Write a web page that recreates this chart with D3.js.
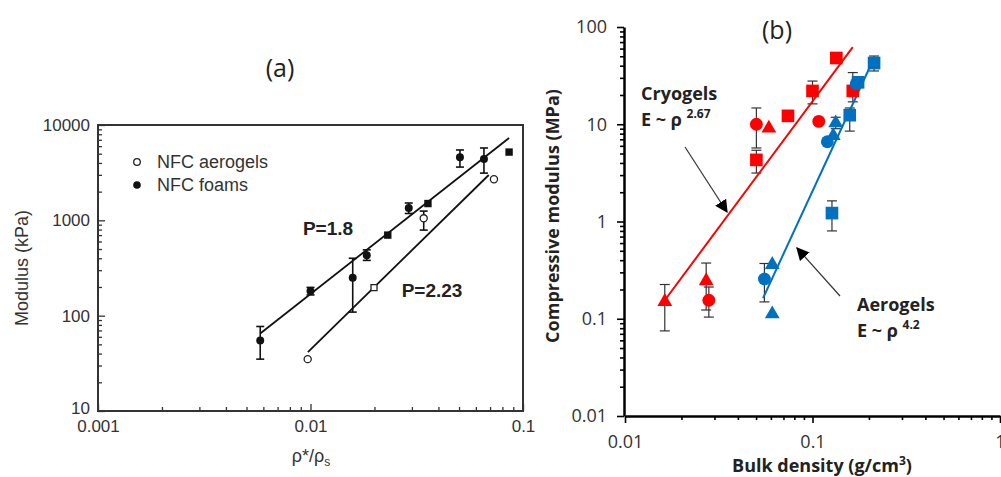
<!DOCTYPE html>
<html>
<head>
<meta charset="utf-8">
<script src="https://cdn.jsdelivr.net/npm/d3@7"></script>
<style>
  body { margin: 0; background: #fff; }
</style>
</head>
<body>
<div id="canvas"></div>
<script>
// ---- panel (a): [x, y, errLow, errHigh]
let foamCircles = [[0.0058, 55, 35, 77], [0.0100, 181, 165, 198], [0.0158, 250, 109, 400], [0.0184, 430, 380, 490], [0.029, 1350, 1180, 1520], [0.0505, 4600, 3620, 5470], [0.0655, 4400, 3130, 5740]];
let foamSquares = [[0.0231, 700], [0.0357, 1500], [0.086, 5200]];
let aeroCircles = [[0.0097, 35], [0.0341, 1050, 790, 1250], [0.073, 2700]];
let aeroSquares = [[0.0199, 197]];
let fitFoam = [[0.0058, 65], [0.086, 7300]];
let fitAero = [[0.00972, 41.5], [0.069, 2990]];
let xTicksA = ["0.001", "0.01", "0.1"];
let yTicksA = ["10", "100", "1000", "10000"];

// ---- panel (b): [x, y, errLow, errHigh]
let cryoSquares = [[0.0502, 4.3, 3.15, 5.4], [0.074, 12.2], [0.1, 22, 16.2, 27.8], [0.134, 48], [0.164, 22, 17, 34]];
let cryoCircles = [[0.028, 0.155, 0.104, 0.212], [0.0502, 10, 5.7, 14.7], [0.108, 10.7]];
let cryoTriangles = [[0.0163, 0.15, 0.075, 0.225], [0.0271, 0.245, 0.123, 0.374], [0.0585, 9.1]];
let aeroBSquares = [[0.127, 1.22, 0.8, 1.63], [0.158, 12.4, 8.5, 14.7], [0.175, 27], [0.213, 42.6, 35.3, 50.3]];
let aeroBCircles = [[0.0554, 0.256, 0.149, 0.37], [0.12, 6.6], [0.171, 26]];
let aeroBTriangles = [[0.061, 0.36], [0.061, 0.112], [0.129, 7.6], [0.133, 10.3, 9, 11.8]];
let fitCryo = [[0.0163, 0.155], [0.164, 62]];
let fitAeroB = [[0.0545, 0.163], [0.215, 50]];
let xTicksB = ["0.01", "0.1", "1"];
let yTicksB = ["0.01", "0.1", "1", "10", "100"];

let svg = d3
  .select("#canvas")
  .append("svg")
  .attr("width", 1001)
  .attr("height", 477)
  .style("display", "block")
  .style("background", "#fff");

let logTicks = (lo, hi) => {
  let t = [];
  for (let e = lo; e < hi; e++)
    for (let m = 1; m < 10; m++) t.push(+(m * Math.pow(10, e)).toPrecision(3));
  t.push(Math.pow(10, hi));
  return t;
};
let isMajor = (d) => Math.abs(Math.log10(d) - Math.round(Math.log10(d))) < 1e-6;

let errBars = (g, data, x, y, cap, color, w) => {
  let d = data.filter((p) => p.length > 2);
  g.selectAll(null).data(d).join("line")
    .attr("x1", (p) => x(p[0])).attr("x2", (p) => x(p[0]))
    .attr("y1", (p) => y(p[2])).attr("y2", (p) => y(p[3]))
    .attr("stroke", color).attr("stroke-width", w);
  [2, 3].forEach((k) => {
    g.selectAll(null).data(d).join("line")
      .attr("x1", (p) => x(p[0]) - cap).attr("x2", (p) => x(p[0]) + cap)
      .attr("y1", (p) => y(p[k])).attr("y2", (p) => y(p[k]))
      .attr("stroke", color).attr("stroke-width", w);
  });
};

let marks = (g, data, x, y, type, size, fill, stroke) => {
  g.selectAll(null).data(data).join("path")
    .attr("d", d3.symbol().type(type).size(size))
    .attr("transform", (p) => `translate(${x(p[0])},${y(p[1])})`)
    .attr("fill", fill)
    .attr("stroke", stroke || "none")
    .attr("stroke-width", 1.3);
};

let fitLine = (g, data, x, y, color, w) => {
  g.append("path")
    .datum(data)
    .attr("d", d3.line().x((p) => x(p[0])).y((p) => y(p[1])))
    .attr("fill", "none").attr("stroke", color).attr("stroke-width", w);
};

// ================= panel (a)
let xA = d3.scaleLog().domain([0.001, 0.1]).range([98, 523]);
let yA = d3.scaleLog().domain([10, 10000]).range([411, 125]);
let gA = svg.append("g").attr("font-family", "'Liberation Sans', Arial, sans-serif");

let axAy = gA.append("g").attr("transform", "translate(98,0)")
  .call(d3.axisLeft(yA).tickValues(logTicks(1, 4)).tickSize(-4).tickSizeOuter(0).tickPadding(8)
    .tickFormat((d) => (isMajor(d) ? yTicksA[Math.round(Math.log10(d)) - 1] : "")));
axAy.selectAll(".tick line").attr("x2", (d) => (isMajor(d) ? 7 : 4)).attr("stroke", "#333").attr("stroke-width", 1.3);
// the "10" sits just above the "0.001" of the x axis
axAy.selectAll(".tick text").filter((d) => d === 10).attr("y", -3);

let axAx = gA.append("g").attr("transform", "translate(0,411)")
  .call(d3.axisBottom(xA).tickValues(logTicks(-3, -1)).tickSize(-4).tickSizeOuter(0).tickPadding(9)
    .tickFormat((d) => (isMajor(d) ? xTicksA[Math.round(Math.log10(d)) + 3] : "")));
axAx.selectAll(".tick line").attr("y2", (d) => (isMajor(d) ? -7 : -4)).attr("stroke", "#333").attr("stroke-width", 1.3);

[axAy, axAx].forEach((a) => {
  a.select(".domain").remove();
  a.selectAll("text").attr("font-size", 17).attr("fill", "#333").attr("font-family", "'Liberation Sans', Arial, sans-serif");
});

gA.append("rect").attr("x", 98).attr("y", 125).attr("width", 425).attr("height", 286)
  .attr("fill", "none").attr("stroke", "#333").attr("stroke-width", 2);

fitLine(gA, fitFoam, xA, yA, "#111", 1.8);
fitLine(gA, fitAero, xA, yA, "#111", 1.8);
errBars(gA, foamCircles, xA, yA, 4, "#111", 1.6);
errBars(gA, aeroCircles, xA, yA, 4, "#111", 1.6);
marks(gA, foamCircles, xA, yA, d3.symbolCircle, 50, "#111");
marks(gA, foamSquares, xA, yA, d3.symbolSquare, 55, "#111");
marks(gA, aeroCircles, xA, yA, d3.symbolCircle, 40, "#fff", "#222");
marks(gA, aeroSquares, xA, yA, d3.symbolSquare, 36, "#fff", "#222");

// legend
gA.append("circle").attr("cx", 137).attr("cy", 162).attr("r", 3.3).attr("fill", "#fff").attr("stroke", "#222").attr("stroke-width", 1.3);
gA.append("circle").attr("cx", 137).attr("cy", 185).attr("r", 3.8).attr("fill", "#111");
gA.append("text").attr("x", 157).attr("y", 168).attr("font-size", 18).attr("fill", "#333").text("NFC aerogels");
gA.append("text").attr("x", 157).attr("y", 191).attr("font-size", 18).attr("fill", "#333").text("NFC foams");

gA.append("text").attr("x", 328).attr("y", 235).attr("text-anchor", "middle").attr("font-size", 19).attr("font-weight", "bold").attr("fill", "#222").text("P=1.8");
gA.append("text").attr("x", 432).attr("y", 297).attr("text-anchor", "middle").attr("font-size", 19).attr("font-weight", "bold").attr("fill", "#222").text("P=2.23");

gA.append("text").attr("transform", "translate(28,268) rotate(-90)").attr("text-anchor", "middle")
  .attr("font-size", 18).attr("fill", "#333").text("Modulus (kPa)");
let xl = gA.append("text").attr("x", 311).attr("y", 462).attr("text-anchor", "middle").attr("font-size", 18).attr("fill", "#333");
xl.append("tspan").text("ρ*/ρ");
xl.append("tspan").attr("font-size", 12).attr("dy", 4).text("s");

svg.append("text").attr("x", 280).attr("y", 77).attr("text-anchor", "middle")
  .attr("font-family", "'Open Sans', sans-serif").attr("font-size", 25).attr("fill", "#222").text("(a)");

// ================= panel (b)
let xB = d3.scaleLog().domain([0.01, 1]).range([625, 1000]);
let yB = d3.scaleLog().domain([0.01, 100]).range([416, 27]);
let gB = svg.append("g").attr("font-family", "'Open Sans', sans-serif");

let axBy = gB.append("g").attr("transform", "translate(624,0)")
  .call(d3.axisLeft(yB).tickValues(logTicks(-2, 2)).tickSize(4).tickSizeOuter(0).tickPadding(13)
    .tickFormat((d) => (isMajor(d) ? yTicksB[Math.round(Math.log10(d)) + 2] : "")));
axBy.selectAll(".tick line").attr("x2", (d) => (isMajor(d) ? -7 : -4));

let axBx = gB.append("g").attr("transform", "translate(0,416)")
  .call(d3.axisBottom(xB).tickValues(logTicks(-2, 0)).tickSize(4).tickSizeOuter(0).tickPadding(15)
    .tickFormat((d) => (isMajor(d) ? xTicksB[Math.round(Math.log10(d)) + 2] : "")));
axBx.selectAll(".tick line").attr("y2", (d) => (isMajor(d) ? 7 : 4));

[axBy, axBx].forEach((a) => {
  a.select(".domain").attr("stroke", "#000").attr("stroke-width", 2.5);
  a.selectAll(".tick line").attr("stroke", "#000").attr("stroke-width", 1.6);
  a.selectAll("text").attr("font-size", 18).attr("fill", "#333").attr("font-family", "'Open Sans', sans-serif");
});

let red = "#ff0000", blue = "#0070c0";
errBars(gB, cryoSquares.concat(cryoCircles, cryoTriangles), xB, yB, 5, "#333", 1.2);
errBars(gB, aeroBSquares.concat(aeroBCircles, aeroBTriangles), xB, yB, 5, "#333", 1.2);
fitLine(gB, fitCryo, xB, yB, red, 2);
fitLine(gB, fitAeroB, xB, yB, blue, 2);
marks(gB, cryoSquares, xB, yB, d3.symbolSquare, 160, red);
marks(gB, cryoCircles, xB, yB, d3.symbolCircle, 130, red);
marks(gB, cryoTriangles, xB, yB, d3.symbolTriangle, 95, red);
marks(gB, aeroBSquares, xB, yB, d3.symbolSquare, 160, blue);
marks(gB, aeroBCircles, xB, yB, d3.symbolCircle, 130, blue);
marks(gB, aeroBTriangles, xB, yB, d3.symbolTriangle, 95, blue);

// arrows
let defs = svg.append("defs");
defs.append("marker").attr("id", "ah").attr("viewBox", "0 0 10 10").attr("refX", 9).attr("refY", 5)
  .attr("markerWidth", 13).attr("markerHeight", 13).attr("markerUnits", "userSpaceOnUse").attr("orient", "auto")
  .append("path").attr("d", "M0,0L10,5L0,10z").attr("fill", "#000");
gB.append("line").attr("x1", 685).attr("y1", 147).attr("x2", 727).attr("y2", 212)
  .attr("stroke", "#333").attr("stroke-width", 1.2).attr("marker-end", "url(#ah)");
gB.append("line").attr("x1", 840).attr("y1", 296).attr("x2", 797).attr("y2", 248)
  .attr("stroke", "#333").attr("stroke-width", 1.2).attr("marker-end", "url(#ah)");

let note = (x, y, name, exp) => {
  gB.append("text").attr("x", x).attr("y", y).attr("font-size", 18).attr("font-weight", "bold").attr("fill", "#222").text(name);
  let t = gB.append("text").attr("x", x).attr("y", y + 26).attr("font-size", 18).attr("font-weight", "bold").attr("fill", "#222");
  t.append("tspan").text("E ~ ρ ");
  t.append("tspan").attr("font-size", 12).attr("dy", -8).text(exp);
};
note(641, 100, "Cryogels", "2.67");
note(857, 311, "Aerogels", "4.2");

gB.append("text").attr("transform", "translate(559,216) rotate(-90)").attr("text-anchor", "middle")
  .attr("font-size", 18).attr("font-weight", "bold").attr("fill", "#222").text("Compressive modulus (MPa)");
let xlb = gB.append("text").attr("x", 822).attr("y", 472).attr("text-anchor", "middle")
  .attr("font-size", 18).attr("font-weight", "bold").attr("fill", "#222");
xlb.append("tspan").text("Bulk density (g/cm");
xlb.append("tspan").attr("font-size", 12).attr("dy", -7).text("3");
xlb.append("tspan").attr("dy", 7).text(")");

svg.append("text").attr("x", 777).attr("y", 39).attr("text-anchor", "middle")
  .attr("font-family", "'Open Sans', sans-serif").attr("font-size", 25).attr("fill", "#222").text("(b)");
</script>
</body>
</html>
